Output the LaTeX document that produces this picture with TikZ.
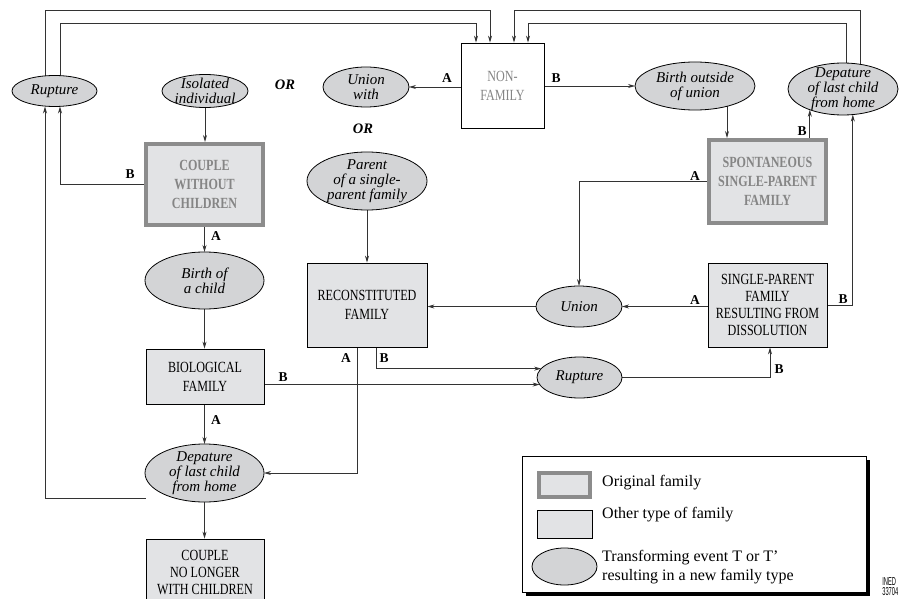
\documentclass[tikz,border=0pt]{standalone}
\usepackage{graphicx}
\usepackage{fontspec}
\setmainfont{Liberation Serif}
\newfontfamily\condfont{Liberation Serif}[FakeStretch=0.78]
\newfontfamily\inedfont{Liberation Sans}[FakeStretch=0.5]
\usetikzlibrary{shapes.geometric,arrows.meta,backgrounds}
\definecolor{boxfill}{HTML}{E2E3E5}
\definecolor{evfill}{HTML}{D3D4D6}
\definecolor{origline}{HTML}{8C8C8C}
\definecolor{graytext}{HTML}{858585}
\definecolor{conn}{HTML}{333333}
\begin{document}
\begin{tikzpicture}[x=1pt,y=-1pt,
  famrect/.style={draw=black, line width=0.8pt, fill=boxfill, rectangle, inner sep=0pt, align=center,
    font=\condfont\fontsize{15.5}{19}\selectfont},
  origrect/.style={famrect, draw=origline, line width=4pt, text=graytext,
    font=\condfont\bfseries\fontsize{15.5}{19}\selectfont},
  nonfam/.style={famrect, fill=white, text=graytext},
  ev/.style={ellipse, draw=black, line width=0.8pt, fill=evfill, inner sep=0pt, outer sep=0pt},
  evtext/.style={align=center, inner sep=0pt, font=\itshape\fontsize{15}{15}\selectfont},
  ortext/.style={inner sep=0pt, font=\bfseries\itshape\fontsize{14.5}{15}\selectfont},
  lab/.style={inner sep=0pt, font=\bfseries\fontsize{13.5}{13}\selectfont},
  legtext/.style={inner sep=0pt, align=left, font=\fontsize{16}{19}\selectfont},
  link/.style={draw=conn, line width=0.8pt},
  arr/.style={link, -{Stealth[length=7pt,width=4pt]}},
]
\useasboundingbox (0,0) rectangle (899,599);
\clip (0,0) rectangle (899,599);

% ---------- family boxes ----------
\node[nonfam, minimum width=83pt, minimum height=85pt] (nfam) at (502.5,85.5) {NON-\\FAMILY};
\node[origrect, minimum width=117pt, minimum height=81pt] (cwc) at (204.5,184.5) {COUPLE\\WITHOUT\\CHILDREN};
\node[origrect, minimum width=117pt, minimum height=83pt] (spsp) at (767.5,181.5) {SPONTANEOUS\\SINGLE-PARENT\\FAMILY};
\node[famrect, minimum width=120pt, minimum height=84pt] (recon) at (367,305) {RECONSTITUTED\\FAMILY};
\node[famrect, minimum width=119pt, minimum height=84pt, font=\condfont\fontsize{15.5}{17}\selectfont] (spd) at (767.5,305) {SINGLE-PARENT\\FAMILY\\RESULTING FROM\\DISSOLUTION};
\node[famrect, minimum width=118pt, minimum height=55pt] (bio) at (205,376.5) {BIOLOGICAL\\FAMILY};
\node[famrect, minimum width=118pt, minimum height=66pt, font=\condfont\fontsize{15.5}{17}\selectfont] (cnl) at (205,572) {COUPLE\\NO LONGER\\WITH CHILDREN};

% ---------- events ----------
\node[ev, minimum width=85pt, minimum height=31pt] (rupL) at (54.5,91) {};
\node[evtext] (rupLt) at (rupL) {Rupture};
\node[ev, minimum width=86pt, minimum height=33pt] (iso) at (205,91) {};
\node[evtext] (isot) at (iso) {Isolated\\individual};
\node[ev, minimum width=86pt, minimum height=40pt] (unw) at (366,87) {};
\node[evtext] (unwt) at (unw) {Union\\with};
\node[ev, minimum width=120pt, minimum height=48pt] (bou) at (695,86) {};
\node[evtext] (bout) at (bou) {Birth outside\\of union};
\node[ev, minimum width=110pt, minimum height=52pt] (dtr) at (843,89) {};
\node[evtext] (dtrt) at (dtr) {Depature\\of last child\\from home};
\node[ev, minimum width=120pt, minimum height=58pt] (par) at (367,181) {};
\node[evtext] (part) at (par) {Parent\\of a single-\\parent family};
\node[ev, minimum width=119pt, minimum height=57pt] (bch) at (204.5,280.5) {};
\node[evtext] (bcht) at (bch) {Birth of\\a child};
\node[ev, minimum width=86pt, minimum height=41pt] (un) at (579,306.5) {};
\node[evtext] (unt) at (un) {Union};
\node[ev, minimum width=85pt, minimum height=41pt] (rupM) at (579.5,377.5) {};
\node[evtext] (rupMt) at (rupM) {Rupture};
\node[ev, minimum width=119pt, minimum height=58pt] (dbl) at (204.5,473) {};
\node[evtext] (dblt) at (dbl) {Depature\\of last child\\from home};

\node[ortext] (or1) at (285,85) {OR};
\node[ortext] (or2) at (363,129) {OR};

% ---------- routing helpers ----------
\coordinate (r1) at (0,10);
\coordinate (r2) at (0,23);
\coordinate (xa) at (45,0);
\coordinate (xb) at (60,0);
\coordinate (xc) at (860,0);
\coordinate (xd) at (846,0);
\coordinate (xs) at (727,0);
\coordinate (xr) at (770,0);
\coordinate (xrb) at (376,0);
\coordinate (xra) at (357,0);
\coordinate (cnly) at (0,498);
\coordinate (n1) at ([xshift=-12.5pt]nfam.north);
\coordinate (n2) at ([xshift=-26.5pt]nfam.north);
\coordinate (n3) at ([xshift=11.5pt]nfam.north);
\coordinate (n4) at ([xshift=25.5pt]nfam.north);

% ---------- connectors ----------
\begin{scope}[on background layer]
\draw[arr] (rupL.center -| xa) |- (r1 -| n1) -- (n1);
\draw[arr] (rupL.center -| xb) |- (r2 -| n2) -- (n2);
\draw[arr] (dtr.center -| xc) |- (r1 -| n3) -- (n3);
\draw[arr] (dtr.center -| xd) |- (r2 -| n4) -- (n4);
\draw[arr] (nfam.west |- unw) -- (unw);
\draw[arr] (nfam.east |- bou) -- (bou);
\draw[arr] (iso) -- (iso |- cwc.north);
\draw[arr] (cwc.west) -| (rupL.south -| xb);
\draw[arr] (cnl.west |- cnly) -| (rupL.south -| xa);
\draw[arr] (cwc.south -| bch) -- (bch.north);
\draw[arr] (bch) -- (bch |- bio.north);
\draw[arr] (bio.south -| dbl) -- (dbl.north);
\draw[arr] (dbl) -- (dbl |- cnl.north);
\draw[arr] (bou.center -| xs) -- (xs |- spsp.north);
\draw[arr] (dtr.212.2 |- spsp.north) -- (dtr.212.2);
\draw[arr] (spsp.west) -| (un.north);
\draw[arr] (spd.east) -| (dtr.291.4);
\draw[arr] (spd.west |- un) -- (un);
\draw[arr] (un) -- (un -| recon.east);
\draw[arr] (par) -- (par |- recon.north);
\draw[arr] (rupM) -| (xr |- spd.south);
\draw[arr] (recon.south -| xrb) |- (rupM.167.6);
\draw[arr] (bio.east |- rupM.190.7) -- (rupM.190.7);
\draw[arr] (recon.south -| xra) |- (dbl.east);
\end{scope}

% ---------- branch labels ----------
\node[lab] (lA1) at (447,78) {A};
\node[lab] (lB1) at (556,78) {B};
\node[lab] (lB2) at (130,174) {B};
\node[lab] (lA2) at (216,236) {A};
\node[lab] (lA3) at (216,420) {A};
\node[lab] (lA4) at (695,176) {A};
\node[lab] (lB3) at (802,131) {B};
\node[lab] (lA5) at (695,300) {A};
\node[lab] (lB4) at (843,299) {B};
\node[lab] (lB5) at (779,369) {B};
\node[lab] (lA6) at (346,358) {A};
\node[lab] (lB6) at (384,358) {B};
\node[lab] (lB7) at (283,377) {B};

% ---------- legend ----------
\node[fill=black, minimum width=344pt, minimum height=136pt, inner sep=0pt] (legsh) at (698,528) {};
\node[draw=black, line width=0.8pt, fill=white, minimum width=344pt, minimum height=136pt, inner sep=0pt] (leg) at (694,524) {};
\node[origrect, minimum width=51pt, minimum height=24pt] (lg1) at (564.5,485) {};
\node[famrect, minimum width=55pt, minimum height=28pt] (lg2) at (564.5,524) {};
\node[ev, minimum width=65pt, minimum height=37pt] (lg3) at (564.5,566.5) {};
\node[legtext, anchor=west] (lt1) at (602,483) {Original family};
\node[legtext, anchor=west] (lt2) at (602,515) {Other type of family};
\node[legtext, anchor=west] (lt3) at (602,567) {Transforming event T or T'\\resulting in a new family type};

\node[anchor=north east, inner sep=0pt, align=left, font=\inedfont\fontsize{11.5}{10}\selectfont] (ined) at (898.5,577) {INED\\33704};
\end{tikzpicture}
\end{document}
